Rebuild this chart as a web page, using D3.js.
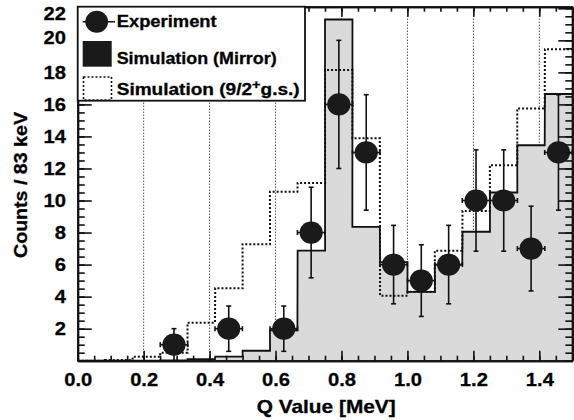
<!DOCTYPE html>
<html>
<head>
<meta charset="utf-8">
<script src="https://cdn.jsdelivr.net/npm/d3@7"></script>
<style>
  body { margin: 0; background: #fff; }
  text { font-family: "Liberation Sans", Arial, sans-serif; font-weight: bold; fill: #000; }
</style>
</head>
<body>
<svg id="chart"></svg>
<script>
const width = 574;
const height = 420;

// histogram bins, 83 keV wide (lower edges, MeV)
const binWidth = 0.0833;
const binLow = [0.000, 0.083, 0.167, 0.250, 0.333, 0.417, 0.500, 0.583, 0.667,
                0.750, 0.833, 0.917, 1.000, 1.083, 1.167, 1.250, 1.333, 1.417];

const mirror = [0, 0, 0, 0.02, 0.1, 0.25, 0.62, 1.9, 6.87,
                21.3, 8.35, 6.15, 4.3, 6.0, 8.05, 10.5, 13.45, 16.65];
const gsSim  = [0, 0.05, 0.25, 0.5, 2.37, 4.52, 7.27, 10.55, 11.1,
                18.15, 13.88, 4.06, 4.3, 6.87, 9.35, 12.2, 15.75, 19.45];

const expQ      = [0.292, 0.458, 0.625, 0.708, 0.792, 0.875, 0.958, 1.042, 1.125, 1.208, 1.292, 1.375, 1.458];
const expCounts = [1, 2, 2, 8, 16, 13, 6, 5, 6, 10, 10, 7, 13];

const xTicks = [0, 0.2, 0.4, 0.6, 0.8, 1.0, 1.2, 1.4];
const yTicks = [2, 4, 6, 8, 10, 12, 14, 16, 18, 20, 22];
const gridX = [0.2, 0.4, 0.6, 0.8, 1.0, 1.2, 1.4];

const svg = d3.select('#chart').attr('width', width).attr('height', height);

const x = d3.scaleLinear().domain([0, 1.5]).range([77.7, 572.3]);
const y = d3.scaleLinear().domain([0, 22.1]).range([360.7, 6.7]);

// dotted grid
svg.append('g').selectAll('line')
  .data(gridX).enter().append('line')
  .attr('x1', d => x(d)).attr('x2', d => x(d))
  .attr('y1', y(22.1)).attr('y2', y(0))
  .attr('stroke', '#000').attr('stroke-width', 1)
  .attr('stroke-dasharray', '1,2');

function steps(vals) {
  const pts = [];
  vals.forEach((v, i) => {
    pts.push([binLow[i], v]);
    pts.push([binLow[i] + binWidth, v]);
  });
  return pts;
}

const mirrorPts = steps(mirror);
svg.append('path')
  .datum(mirrorPts)
  .attr('fill', '#dadada')
  .attr('d', d3.area().x(p => x(p[0])).y0(y(0)).y1(p => y(p[1])));
svg.append('path')
  .datum(mirrorPts)
  .attr('fill', 'none').attr('stroke', '#111').attr('stroke-width', 1.8)
  .attr('d', d3.line().x(p => x(p[0])).y(p => y(p[1])));

svg.append('path')
  .datum(steps(gsSim))
  .attr('fill', 'none').attr('stroke', '#111').attr('stroke-width', 2)
  .attr('stroke-dasharray', '2,2')
  .attr('d', d3.line().x(p => x(p[0])).y(p => y(p[1])));

// experiment points
const pts = svg.append('g').selectAll('g')
  .data(expQ.map((q, i) => ({q, n: expCounts[i]}))).enter().append('g');
pts.append('line')
  .attr('x1', d => x(d.q)).attr('x2', d => x(d.q))
  .attr('y1', d => y(d.n - Math.sqrt(d.n))).attr('y2', d => y(d.n + Math.sqrt(d.n)))
  .attr('stroke', '#111').attr('stroke-width', 1.6);
pts.append('line')
  .attr('x1', d => x(d.q - binWidth / 2)).attr('x2', d => x(d.q + binWidth / 2))
  .attr('y1', d => y(d.n)).attr('y2', d => y(d.n))
  .attr('stroke', '#111').attr('stroke-width', 1.6);
[-1, 1].forEach(s => {
  pts.append('line')
    .attr('x1', d => x(d.q) - 2.5).attr('x2', d => x(d.q) + 2.5)
    .attr('y1', d => y(d.n + s * Math.sqrt(d.n))).attr('y2', d => y(d.n + s * Math.sqrt(d.n)))
    .attr('stroke', '#111').attr('stroke-width', 1.6);
  pts.append('line')
    .attr('x1', d => x(d.q + s * binWidth / 2)).attr('x2', d => x(d.q + s * binWidth / 2))
    .attr('y1', d => y(d.n) - 2.5).attr('y2', d => y(d.n) + 2.5)
    .attr('stroke', '#111').attr('stroke-width', 1.6);
});
pts.append('ellipse')
  .attr('cx', d => x(d.q)).attr('cy', d => y(d.n))
  .attr('rx', 11.6).attr('ry', 11.1)
  .attr('fill', '#1a1a1a');

// axes, ticks pointing inward
const minorX = d3.range(0, 1.5001, 0.05);
const minorY = d3.range(0, 22.01, 0.5);

function styleAxis(g) {
  g.selectAll('.domain').attr('stroke', '#111').attr('stroke-width', 2);
  g.selectAll('.tick line').attr('stroke', '#111').attr('stroke-width', 1.6);
}

svg.append('g').attr('transform', `translate(0, ${y(0)})`)
  .call(d3.axisBottom(x).tickValues(minorX).tickFormat('').tickSize(-5).tickSizeOuter(0)).call(styleAxis);
const xAxis = svg.append('g').attr('transform', `translate(0, ${y(0)})`)
  .call(d3.axisBottom(x).tickValues(xTicks).tickFormat(d3.format('.1f')).tickSize(-10).tickSizeOuter(0).tickPadding(12.5))
  .call(styleAxis);
svg.append('g').attr('transform', `translate(0, ${y(22.1)})`)
  .call(d3.axisTop(x).tickValues(minorX).tickFormat('').tickSize(-5).tickSizeOuter(0)).call(styleAxis);
svg.append('g').attr('transform', `translate(0, ${y(22.1)})`)
  .call(d3.axisTop(x).tickValues(xTicks).tickFormat('').tickSize(-10).tickSizeOuter(0)).call(styleAxis);

svg.append('g').attr('transform', `translate(${x(0)}, 0)`)
  .call(d3.axisLeft(y).tickValues(minorY).tickFormat('').tickSize(-7).tickSizeOuter(0)).call(styleAxis);
const yAxis = svg.append('g').attr('transform', `translate(${x(0)}, 0)`)
  .call(d3.axisLeft(y).tickValues(yTicks).tickSize(-14).tickSizeOuter(0).tickPadding(10.5))
  .call(styleAxis);
svg.append('g').attr('transform', `translate(${x(1.5)}, 0)`)
  .call(d3.axisRight(y).tickValues(minorY).tickFormat('').tickSize(-7).tickSizeOuter(0)).call(styleAxis);
svg.append('g').attr('transform', `translate(${x(1.5)}, 0)`)
  .call(d3.axisRight(y).tickValues(yTicks).tickFormat('').tickSize(-14).tickSizeOuter(0)).call(styleAxis);

[xAxis, yAxis].forEach(a => a.selectAll('text')
  .attr('font-size', 18)
  .attr('font-family', '"Liberation Sans", Arial, sans-serif')
  .attr('font-weight', 'bold')
  .attr('fill', '#111')
  .attr('stroke', '#111').attr('stroke-width', 0.3)
  .attr('transform', 'scale(1.12,1)'));

// the top two labels sit a little off their ticks in the original
yAxis.selectAll('.tick').filter(d => d === 22).select('text').attr('y', 5.5);
yAxis.selectAll('.tick').filter(d => d === 20).select('text').attr('y', -3);

// axis titles
svg.append('text')
  .attr('x', 326.2).attr('y', 413.3)
  .attr('text-anchor', 'middle').attr('font-size', 19)
  .attr('stroke', '#000').attr('stroke-width', 0.3)
  .attr('textLength', 139).attr('lengthAdjust', 'spacingAndGlyphs')
  .text('Q Value [MeV]');
svg.append('text')
  .attr('transform', 'translate(27, 185) rotate(-90)')
  .attr('text-anchor', 'middle').attr('font-size', 19)
  .attr('stroke', '#000').attr('stroke-width', 0.3)
  .attr('textLength', 146).attr('lengthAdjust', 'spacingAndGlyphs')
  .text('Counts / 83 keV');

// legend
const legend = svg.append('g');
legend.append('rect')
  .attr('x', 77.7).attr('y', 6.7).attr('width', 227.3).attr('height', 94)
  .attr('fill', '#fff').attr('stroke', '#111').attr('stroke-width', 1.8);
legend.append('line')
  .attr('x1', 82.7).attr('x2', 115).attr('y1', 21.7).attr('y2', 21.7)
  .attr('stroke', '#111').attr('stroke-width', 1.6);
legend.append('ellipse')
  .attr('cx', 96.7).attr('cy', 21.7).attr('rx', 11.4).attr('ry', 11)
  .attr('fill', '#1a1a1a');
legend.append('rect')
  .attr('x', 82.7).attr('y', 41).attr('width', 29).attr('height', 25.7)
  .attr('fill', '#1a1a1a');
legend.append('rect')
  .attr('x', 83.5).attr('y', 77).attr('width', 28).attr('height', 23)
  .attr('fill', 'none').attr('stroke', '#111').attr('stroke-width', 1.6)
  .attr('stroke-dasharray', '2,2');

legend.selectAll('text.lbl')
  .data([
    {t: 'Experiment', y: 27.3, len: 100},
    {t: 'Simulation (Mirror)', y: 64.3, len: 160}
  ]).enter().append('text')
  .attr('class', 'lbl')
  .attr('x', 116.7).attr('y', d => d.y).attr('font-size', 17)
  .attr('stroke', '#000').attr('stroke-width', 0.3)
  .attr('textLength', d => d.len).attr('lengthAdjust', 'spacingAndGlyphs')
  .text(d => d.t);
const gsLabel = legend.append('text').attr('x', 116.7).attr('y', 95).attr('font-size', 17)
  .attr('stroke', '#000').attr('stroke-width', 0.3)
  .attr('textLength', 183).attr('lengthAdjust', 'spacingAndGlyphs');
gsLabel.append('tspan').text('Simulation (9/2');
gsLabel.append('tspan').attr('dy', -6).attr('font-size', 13).text('+');
gsLabel.append('tspan').attr('dy', 6).text('g.s.)');
</script>
</body>
</html>
